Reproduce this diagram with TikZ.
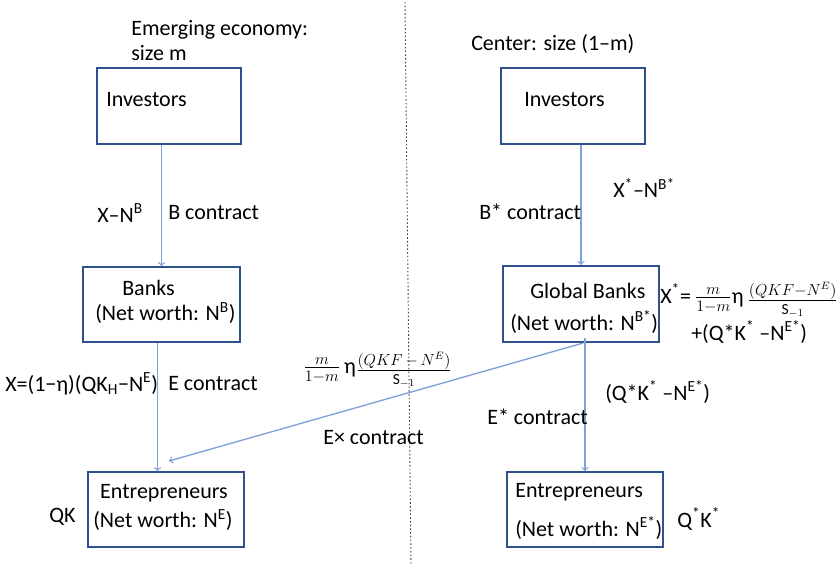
\documentclass[tikz,border=0pt]{standalone}
\usepackage{amsmath}
\usepackage{fontspec}
\setmainfont{Carlito}
\usepackage{tikz}

\definecolor{boxblue}{RGB}{47,82,143}
\definecolor{arrowblue}{RGB}{128,160,215}

\tikzset{
  sector/.style={draw=boxblue, line width=1.6pt, minimum width=108pt, minimum height=57pt, inner sep=0pt},
  flow/.style={draw=arrowblue, line width=1pt, ->},
  lbl/.style={anchor=west, inner sep=0.75pt},
}

\begin{document}
\begin{tikzpicture}[x=0.75pt,y=0.75pt,yscale=-1,xscale=1]
	\fontsize{16.5}{20}\selectfont
	\useasboundingbox (0,0) rectangle (836,564);
	
	%Divider
	\draw [black!75, line width=0.7pt, dash pattern=on 1.2pt off 1.6pt] (405,2) -- (411,564);
	
	%Boxes
	\node [sector] (inv1) at (169,106) {};
	\node [sector] (inv2) at (573,106) {};
	\node [sector, minimum width=118pt, minimum height=56pt] (bank) at (161.5,304.5) {};
	\node [sector, minimum width=117pt] (gbank) at (581,304) {};
	\node [sector, minimum width=117pt, minimum height=56pt] (ent1) at (166,509.5) {};
	\node [sector, minimum width=117pt, minimum height=56pt] (ent2) at (585,509.5) {};
	
	%Arrows
	\draw [flow] (inv1.south -| bank.north) -- (bank.north);
	\draw [flow] (inv2.south -| gbank.north) -- (gbank.north);
	\draw [flow] ([xshift=-3pt]bank.south) -- ([xshift=-3pt]bank.south |- ent1.north);
	\draw [flow] ([yshift=-4pt]gbank.south -| ent2.north) -- (ent2.north);
	\coordinate (exend) at (169,461);
	\draw [flow] ([xshift=1.5pt]gbank.south) -- (exend);
	
	% Header texts
	\draw (130,30) node [lbl] {Emerging economy:};
	\draw (130,53) node [lbl] {size m};
	\draw (470,44) node [lbl] {Center: size (1–m)};
	
	% Box texts
	\draw (105,100) node [lbl] {Investors};
	\draw (523,100) node [lbl] {Investors};
	\draw (121,288) node [lbl] {Banks};
	\draw (94,313) node [lbl] {(Net worth: N\textsuperscript{B})};
	\draw (529,291) node [lbl] {Global Banks};
	\draw (509,322) node [lbl] {(Net worth: N\textsuperscript{B*})};
	\draw (164,493) node [inner sep=0.75pt] {Entrepreneurs};
	\draw (163,520) node [inner sep=0.75pt] {(Net worth: N\textsuperscript{E})};
	\draw (514,492) node [lbl] {Entrepreneurs};
	\draw (514,528) node [lbl] {(Net worth: N\textsuperscript{E*})};
	
	% Flow labels
	\draw (96,213) node [lbl] {X–N\textsuperscript{B}};
	\draw (167,213) node [lbl] {B contract};
	\draw (612,188) node [lbl] {X\textsuperscript{*}–N\textsuperscript{B*}};
	\draw (478,212) node [lbl] {B* contract};
	\draw (4,384) node [lbl] {X=(1−η)(QK\textsubscript{H}−N\textsuperscript{E})};
	\draw (167,384) node [lbl] {E contract};
	\draw (302,370) node [lbl] {$\frac{m}{1-m}$\,η\raisebox{-0.3ex}{$\frac{(QKF\,-\,N^{E})}{\text{S}_{-1}}$}};
	\draw (322,438) node [lbl] {E× contract};
	\draw (486,417) node [lbl] {E* contract};
	\draw (604,392) node [lbl] {(Q*K\textsuperscript{*} –N\textsuperscript{E*})};
	\draw (659,300) node [lbl] {X\textsuperscript{*}=\,$\frac{m}{1-m}$η\,\raisebox{-0.3ex}{$\frac{(QKF{-}N^{E})}{\text{S}_{-1}}$}};
	\draw (690,332) node [lbl] {+(Q*K\textsuperscript{*} –N\textsuperscript{E*})};
	\draw (48,517) node [lbl] {QK};
	\draw (676,519) node [lbl] {Q\textsuperscript{*}K\textsuperscript{*}};
	
\end{tikzpicture}
\end{document}
